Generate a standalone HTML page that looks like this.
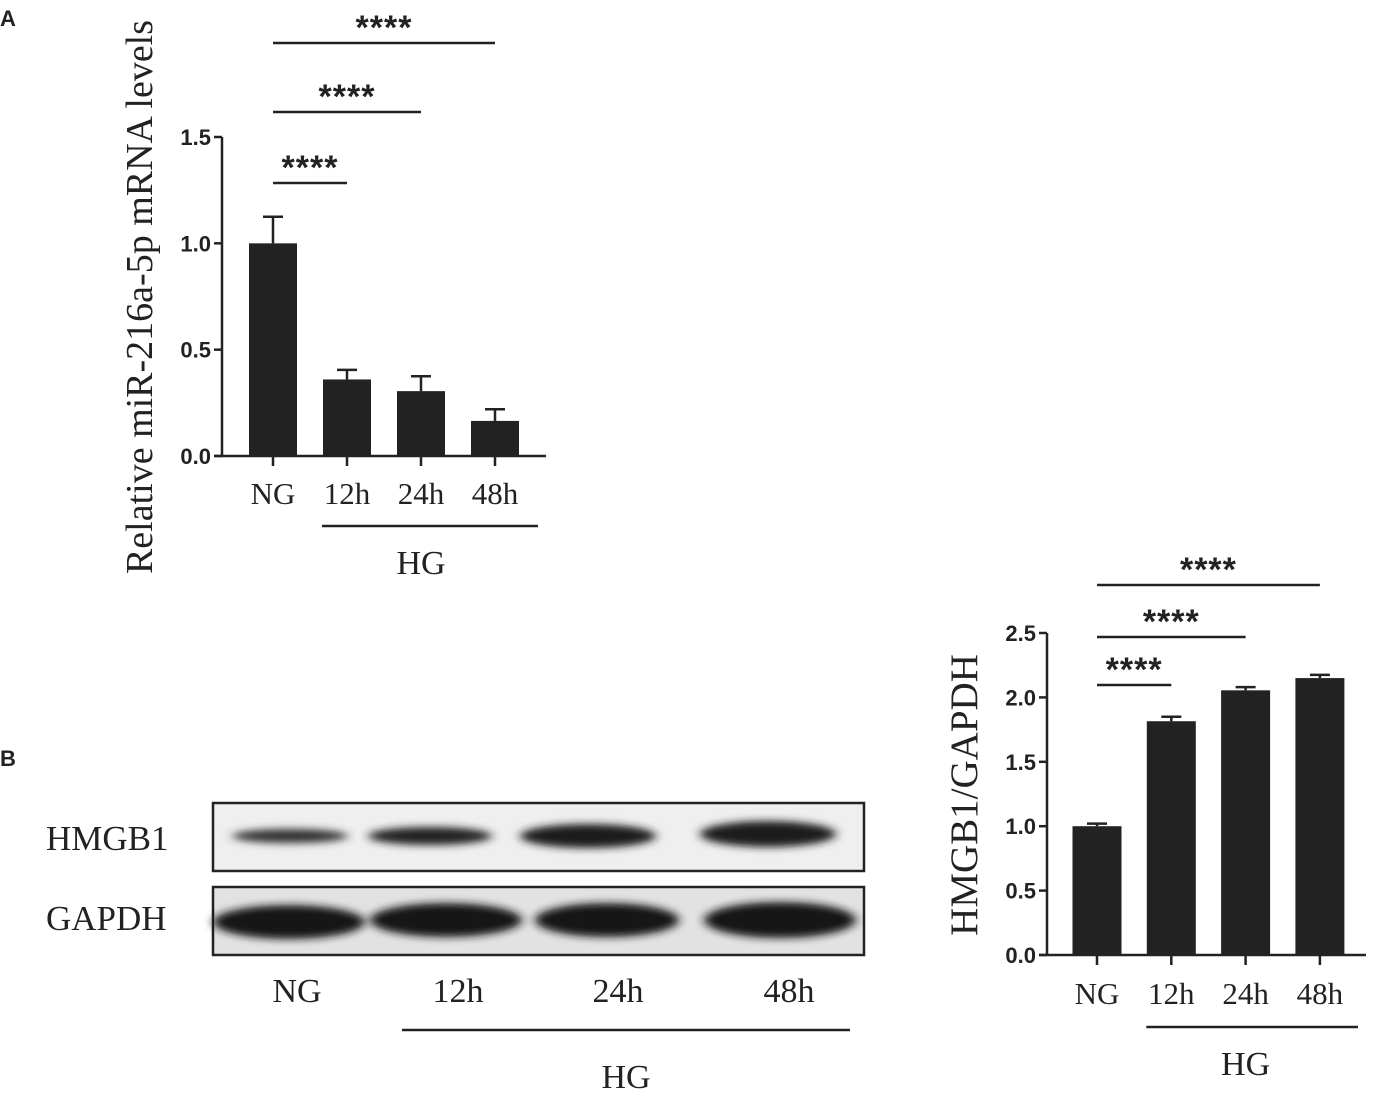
<!DOCTYPE html>
<html><head><meta charset="utf-8"><style>
html,body{margin:0;padding:0;background:#fff;}
svg text{fill:#222;}
.s{font-family:"Liberation Serif",serif;}
.a{font-family:"Liberation Sans",sans-serif;}
</style></head><body>
<svg id="fig" width="1376" height="1104" viewBox="0 0 1376 1104" xmlns="http://www.w3.org/2000/svg">
<text x="0" y="26" class="a" font-size="22" font-weight="bold">A</text>
<text x="0" y="766" class="a" font-size="22" font-weight="bold">B</text>
<g id="chartA"></g>
<g id="chartB"></g>
<g>
<defs>
<filter id="blur" x="-20%" y="-80%" width="140%" height="260%"><feGaussianBlur stdDeviation="5 4"/></filter>
</defs>
<rect x="213" y="803" width="651" height="68" fill="#efefef" stroke="#222" stroke-width="2.5"/>
<rect x="213" y="887" width="651" height="68" fill="#e2e2e2" stroke="#222" stroke-width="2.5"/>
<g filter="url(#blur)">
<ellipse cx="290" cy="836" rx="58" ry="7" fill="#333"/>
<ellipse cx="430" cy="836" rx="62" ry="9" fill="#222"/>
<ellipse cx="588" cy="836" rx="68" ry="12" fill="#1c1c1c"/>
<ellipse cx="768" cy="834" rx="68" ry="13" fill="#1a1a1a"/>
<ellipse cx="289" cy="922" rx="76" ry="17" fill="#181818"/>
<ellipse cx="446" cy="920" rx="76" ry="17" fill="#181818"/>
<ellipse cx="607" cy="920" rx="72" ry="17" fill="#181818"/>
<ellipse cx="780" cy="920" rx="76" ry="18" fill="#181818"/>
</g>
<text x="46" y="850" class="s" font-size="35">HMGB1</text>
<text x="46" y="930" class="s" font-size="35">GAPDH</text>
<text x="297" y="1002" class="s" font-size="34" text-anchor="middle">NG</text>
<text x="458" y="1002" class="s" font-size="34" text-anchor="middle">12h</text>
<text x="618" y="1002" class="s" font-size="34" text-anchor="middle">24h</text>
<text x="789" y="1002" class="s" font-size="34" text-anchor="middle">48h</text>
<line x1="402" y1="1030" x2="850" y2="1030" stroke="#222" stroke-width="2.5"/>
<text x="626" y="1088" class="s" font-size="34" text-anchor="middle">HG</text>
</g>
</svg>
<script>
const categories=["NG","12h","24h","48h"];
const valuesA=[1.0,0.36,0.305,0.165];
const errorsA=[0.125,0.045,0.07,0.055];
const ticksA=["0.0","0.5","1.0","1.5"];
const valuesB=[1.0,1.815,2.055,2.15];
const errorsB=[0.02,0.035,0.025,0.025];
const ticksB=["0.0","0.5","1.0","1.5","2.0","2.5"];
const NS="http://www.w3.org/2000/svg";
function mk(p,tag,at,txt){const e=document.createElementNS(NS,tag);for(const k in at)e.setAttribute(k,at[k]);if(txt!==undefined)e.textContent=txt;p.appendChild(e);return e;}
function draw(g,cfg,values,errors,ticks){
 const y=v=>cfg.y0-(v/cfg.max)*(cfg.y0-cfg.yTop);
 const x=i=>cfg.x0+cfg.step*i;
 let ax=mk(g,'line',{x1:cfg.ax,y1:y(cfg.max),x2:cfg.ax,y2:cfg.y0,stroke:'#222','stroke-width':2.5});
 
 
 let bx=mk(g,'line',{x1:cfg.ax-8,y1:cfg.y0,x2:cfg.xEnd,y2:cfg.y0,stroke:'#222','stroke-width':2.5});
 
 
 ticks.forEach(t=>{const v=parseFloat(t);
  mk(g,'line',{x1:cfg.ax-8,y1:y(v),x2:cfg.ax,y2:y(v),stroke:'#222','stroke-width':2.5});
  const tl=mk(g,'text',{x:cfg.ax-11,y:y(v)+8,'text-anchor':'end','font-size':22,'font-weight':'bold',class:'a'},t);
  
  
 });
 values.forEach((v,i)=>{
  const cx=x(i);
  mk(g,'line',{x1:cx,y1:y(v+errors[i]),x2:cx,y2:y(v),stroke:'#222','stroke-width':2.5});
  mk(g,'line',{x1:cx-10,y1:y(v+errors[i]),x2:cx+10,y2:y(v+errors[i]),stroke:'#222','stroke-width':2.5});
  const b=mk(g,'rect',{x:cx-cfg.bw/2,y:y(v),width:cfg.bw,height:cfg.y0-y(v),fill:'#222'});
  
  
  mk(g,'line',{x1:cx,y1:cfg.y0,x2:cx,y2:cfg.y0+10,stroke:'#222','stroke-width':2.5});
  const c=mk(g,'text',{x:cx,y:cfg.labY,'text-anchor':'middle','font-size':31,class:'s'},categories[i]);
  
  
 });
 const hb=mk(g,'line',{x1:x(1)-25,y1:cfg.hgY,x2:cfg.xEnd-8,y2:cfg.hgY,stroke:'#222','stroke-width':2.5});
 
 
 const hl=mk(g,'text',{x:(x(1)+x(3))/2,y:cfg.hgY+48,'text-anchor':'middle','font-size':34,class:'s'},'HG');
 
 
 cfg.sig.forEach((sy,k)=>{
  const l=mk(g,'line',{x1:x(0),y1:sy,x2:x(k+1),y2:sy,stroke:'#222','stroke-width':2.5});
  
  
  const s=mk(g,'text',{x:(x(0)+x(k+1))/2,y:sy-4,'text-anchor':'middle','font-size':34,'font-weight':'bold',class:'a','letter-spacing':'1'},'****');
  
  
 });
 const t=mk(g,'text',{transform:`translate(${cfg.titleX},${cfg.titleY}) rotate(-90)`,'text-anchor':'middle','font-size':cfg.titleSize,class:'s'},cfg.title);
 
 
}
draw(document.getElementById('chartA'),{ax:222,y0:456,yTop:137,max:1.5,x0:273,step:74,bw:48,xEnd:546,labY:504,hgY:526,sig:[183,112,43],title:'Relative miR-216a-5p mRNA levels',titleX:152,titleY:297,titleSize:38},valuesA,errorsA,ticksA);
draw(document.getElementById('chartB'),{ax:1047,y0:955,yTop:633,max:2.5,x0:1097,step:74.3,bw:49,xEnd:1366,labY:1004,hgY:1027,sig:[685,637,585],title:'HMGB1/GAPDH',titleX:977,titleY:795,titleSize:39},valuesB,errorsB,ticksB);
</script>
</body></html>
